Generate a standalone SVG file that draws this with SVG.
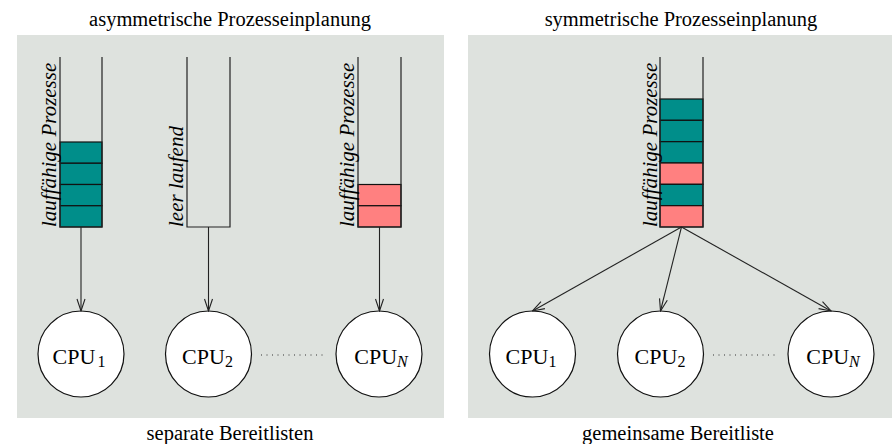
<svg xmlns="http://www.w3.org/2000/svg" width="892" height="444" viewBox="0 0 892 444">
<style>
.t{font-family:"Liberation Serif","Times New Roman",serif;font-size:20.5px;fill:#000}
.lbl{font-family:"Liberation Serif","Times New Roman",serif;font-size:21px;font-style:italic;fill:#000}
.cpu{font-family:"Liberation Serif","Times New Roman",serif;font-size:22px;fill:#000;text-anchor:middle}
.sub{font-size:16px}
.q{fill:none;stroke:#222;stroke-width:1.2}
.teal{fill:#008e8a;stroke:#111;stroke-width:1.2}
.pink{fill:#ff8080;stroke:#111;stroke-width:1.2}
.node circle{fill:#fff;stroke:#111;stroke-width:1.2}
.conn line{stroke:#222;stroke-width:1.1;marker-end:url(#ah)}
.dots{stroke:#333;stroke-width:1;stroke-dasharray:1 4.5}
</style>
<defs>
<marker id="ah" markerUnits="userSpaceOnUse" markerWidth="14" markerHeight="10" viewBox="-13 -5 14 10" refX="0" refY="0" orient="auto">
<path d="M -12 -4 L 0 0 L -12 4" fill="none" stroke="#222" stroke-width="1.1"/>
</marker>
</defs>
<rect x="17" y="35" width="427" height="383" fill="#dee2de"/>
<rect x="468" y="35" width="424" height="383" fill="#dee2de"/>
<text class="t" x="230" y="26" text-anchor="middle">asymmetrische Prozesseinplanung</text>
<text class="t" x="681" y="26" text-anchor="middle">symmetrische Prozesseinplanung</text>
<text class="t" x="230" y="440" text-anchor="middle">separate Bereitlisten</text>
<text class="t" x="678" y="440" text-anchor="middle">gemeinsame Bereitliste</text>

<g id="queue1">
<rect class="teal" x="60" y="142" width="42" height="21.25"/>
<rect class="teal" x="60" y="163.25" width="42" height="21.25"/>
<rect class="teal" x="60" y="184.5" width="42" height="21.25"/>
<rect class="teal" x="60" y="205.75" width="42" height="21.25"/>
<path class="q" d="M60 57 V227 H102 V57"/>
<text class="lbl" transform="translate(56,227) rotate(-90)">lauffähige Prozesse</text>
</g>
<g id="queue2">
<path class="q" d="M187 57 V227 H230 V57"/>
<text class="lbl" transform="translate(183,227) rotate(-90)">leer laufend</text>
</g>
<g id="queue3">
<rect class="pink" x="358" y="184.5" width="43" height="21.25"/>
<rect class="pink" x="358" y="205.75" width="43" height="21.25"/>
<path class="q" d="M358 57 V227 H401 V57"/>
<text class="lbl" transform="translate(354,227) rotate(-90)">lauffähige Prozesse</text>
</g>
<g id="queue4">
<rect class="teal" x="660" y="99" width="43" height="21.33"/>
<rect class="teal" x="660" y="120.33" width="43" height="21.33"/>
<rect class="teal" x="660" y="141.67" width="43" height="21.33"/>
<rect class="pink" x="660" y="163" width="43" height="21.33"/>
<rect class="teal" x="660" y="184.33" width="43" height="21.33"/>
<rect class="pink" x="660" y="205.67" width="43" height="21.33"/>
<path class="q" d="M660 57 V227 H703 V57"/>
<text class="lbl" transform="translate(657,227) rotate(-90)">lauffähige Prozesse</text>
</g>

<g id="cpu-a1" class="node"><circle cx="81" cy="354" r="43"/><text class="cpu" x="79" y="364">CPU<tspan class="sub" dx="2" dy="3">1</tspan></text></g>
<g id="cpu-a2" class="node"><circle cx="208.5" cy="354" r="43"/><text class="cpu" x="207.5" y="364">CPU<tspan class="sub" dy="3">2</tspan></text></g>
<g id="cpu-aN" class="node"><circle cx="379" cy="354" r="43"/><text class="cpu" x="381" y="364">CPU<tspan class="sub" font-style="italic" dy="3">N</tspan></text></g>
<g id="cpu-b1" class="node"><circle cx="532.5" cy="354" r="43"/><text class="cpu" x="531" y="364">CPU<tspan class="sub" dy="3">1</tspan></text></g>
<g id="cpu-b2" class="node"><circle cx="660.5" cy="354" r="43"/><text class="cpu" x="660" y="364">CPU<tspan class="sub" dy="3">2</tspan></text></g>
<g id="cpu-bN" class="node"><circle cx="831" cy="354" r="43"/><text class="cpu" x="833" y="364">CPU<tspan class="sub" font-style="italic" dy="3">N</tspan></text></g>

<g id="connectors" class="conn">
<line x1="81" y1="227" x2="81" y2="311"/>
<line x1="208.5" y1="227" x2="208.5" y2="311"/>
<line x1="379.5" y1="227" x2="379.5" y2="311"/>
<line x1="681.5" y1="227" x2="532.5" y2="311"/>
<line x1="681.5" y1="227" x2="660.5" y2="311"/>
<line x1="681.5" y1="227" x2="831" y2="311"/>
</g>
<line class="dots" x1="261" y1="355" x2="326" y2="355"/>
<line class="dots" x1="713" y1="355" x2="777" y2="355"/>
</svg>
